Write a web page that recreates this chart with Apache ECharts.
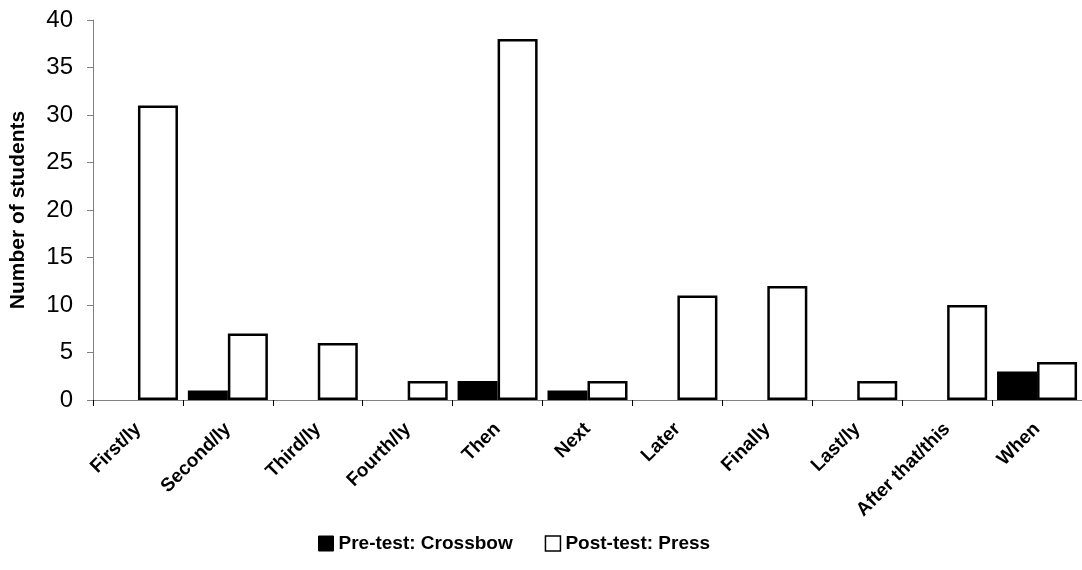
<!DOCTYPE html>
<html><head><meta charset="utf-8">
<script src="https://cdn.jsdelivr.net/npm/echarts@6/dist/echarts.min.js"></script>
<style>html,body{margin:0;padding:0;background:#fff}#c{width:1082px;height:570px}</style>
</head><body><div id="c"></div>
<script>
const categories = ['First/ly','Second/ly','Third/ly','Fourth/ly','Then','Next','Later','Finally','Last/ly','After that/this','When'];
const preTest = [0,1,0,0,2,1,0,0,0,0,3];
const postTest = [31,7,6,2,38,2,11,12,2,10,4];
const yTicks = {min:0,max:40,interval:5};
const FONT = '"Liberation Sans",Arial,sans-serif';
const hideZero = a => a.map(v => v === 0 ? '-' : v);
const chart = echarts.init(document.getElementById('c'));
chart.setOption({
  animation:false,
  grid:{left:92,right:-8,top:20,bottom:170,containLabel:false},
  legend:{
    bottom:12,left:313,itemWidth:15,itemHeight:15,itemGap:32,
    textStyle:{fontFamily:FONT,fontWeight:'bold',fontSize:19,color:'#000'},
    data:[
      {name:'Pre-test: Crossbow',icon:'rect',itemStyle:{color:'#000',borderColor:'#000',borderWidth:1}},
      {name:'Post-test: Press',icon:'rect',itemStyle:{color:'#fff',borderColor:'#000',borderWidth:1.5}}
    ]
  },
  xAxis:{
    type:'category',data:categories,
    axisLine:{lineStyle:{color:'#808080',width:1}},
    axisTick:{show:true,alignWithLabel:false,length:6,lineStyle:{color:'#000'}},
    axisLabel:{rotate:45,interval:0,margin:26,fontFamily:FONT,fontWeight:'bold',fontSize:19,color:'#000'}
  },
  yAxis:{
    type:'value',min:yTicks.min,max:yTicks.max,interval:yTicks.interval,
    name:'Number of students',nameLocation:'middle',nameGap:64,
    nameTextStyle:{fontFamily:FONT,fontWeight:'bold',fontSize:21,color:'#000'},
    splitLine:{show:false},
    axisLine:{show:true,lineStyle:{color:'#808080',width:1}},
    axisTick:{show:true,length:6,lineStyle:{color:'#808080'}},
    axisLabel:{fontFamily:FONT,fontSize:24,color:'#000',margin:20}
  },
  series:[
    {name:'Pre-test: Crossbow',type:'bar',data:hideZero(preTest),barGap:'0%',barCategoryGap:'11%',
     itemStyle:{color:'#000',borderColor:'#000',borderWidth:2}},
    {name:'Post-test: Press',type:'bar',data:hideZero(postTest),barGap:'0%',barCategoryGap:'11%',
     itemStyle:{color:'#fff',borderColor:'#000',borderWidth:2.5}}
  ]
});
</script></body></html>
